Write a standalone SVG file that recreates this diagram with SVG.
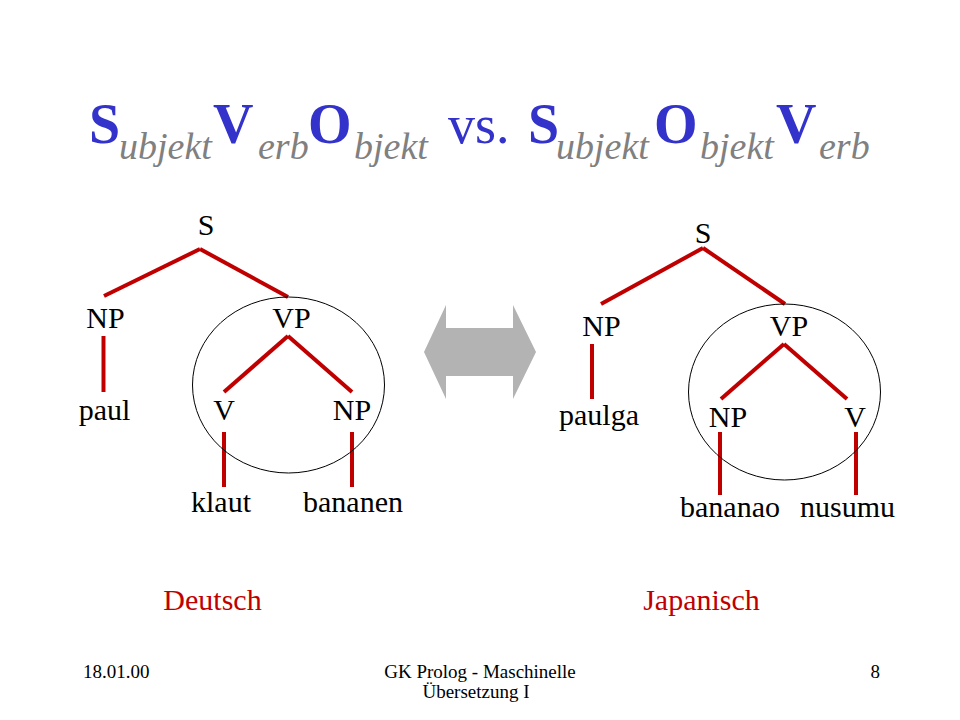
<svg xmlns="http://www.w3.org/2000/svg" width="960" height="720" viewBox="0 0 960 720">
<style>
.lbl{font-size:30px;fill:#000;text-anchor:middle}
.edge{stroke:#C00000;stroke-width:4;fill:none;stroke-linecap:butt}
.ring{fill:none;stroke:#000;stroke-width:1}
.lang{font-size:30px;fill:#C00000;text-anchor:middle}
.foot{font-size:19px;fill:#000}
.big{font-weight:bold;font-size:56px;fill:#3333CC}
.sub{font-style:italic;font-size:38px;fill:#808080}
.vs{font-size:54px;fill:#3333CC}
</style>
<rect x="0" y="0" width="960" height="720" fill="#ffffff"/>

<g id="title" font-family="'Liberation Serif', serif">
<text class="big" x="89" y="143">S</text>
<text class="sub" x="119" y="159">ubjekt</text>
<text class="big" x="213" y="143">V</text>
<text class="sub" x="258" y="159">erb</text>
<text class="big" x="308" y="143">O</text>
<text class="sub" x="354" y="159">bjekt</text>
<text class="vs" x="448" y="143">vs.</text>
<text class="big" x="528" y="143">S</text>
<text class="sub" x="556" y="159">ubjekt</text>
<text class="big" x="654" y="143">O</text>
<text class="sub" x="700" y="159">bjekt</text>
<text class="big" x="776" y="143">V</text>
<text class="sub" x="819" y="159">erb</text>
</g>

<g id="connectors">
<line class="edge" x1="200" y1="249" x2="104" y2="296"/>
<line class="edge" x1="200" y1="249" x2="288" y2="297"/>
<line class="edge" x1="103.5" y1="336" x2="103.5" y2="392"/>
<line class="edge" x1="288" y1="336" x2="224" y2="392"/>
<line class="edge" x1="288" y1="336" x2="352" y2="392"/>
<line class="edge" x1="224" y1="432" x2="224" y2="487"/>
<line class="edge" x1="352" y1="432" x2="352" y2="487"/>
<line class="edge" x1="703" y1="248" x2="601" y2="304"/>
<line class="edge" x1="703" y1="248" x2="785" y2="304"/>
<line class="edge" x1="592" y1="344" x2="592" y2="399"/>
<line class="edge" x1="784" y1="344" x2="721" y2="399"/>
<line class="edge" x1="784" y1="344" x2="847" y2="399"/>
<line class="edge" x1="720" y1="432" x2="720" y2="495"/>
<line class="edge" x1="856" y1="432" x2="856" y2="495"/>
</g>

<g id="vp-circle-de"><ellipse class="ring" cx="288.5" cy="385" rx="96" ry="88"/></g>
<g id="vp-circle-ja"><ellipse class="ring" cx="784.5" cy="392" rx="96" ry="88"/></g>

<g font-family="'Liberation Serif', serif">
<g id="de-S"><text class="lbl" x="206" y="235">S</text></g>
<g id="de-NP"><text class="lbl" x="105.5" y="328">NP</text></g>
<g id="de-VP"><text class="lbl" x="291.5" y="328">VP</text></g>
<g id="de-paul"><text class="lbl" x="104.5" y="420">paul</text></g>
<g id="de-V"><text class="lbl" x="224" y="420">V</text></g>
<g id="de-NP2"><text class="lbl" x="352" y="420">NP</text></g>
<g id="de-klaut"><text class="lbl" x="221" y="512">klaut</text></g>
<g id="de-bananen"><text class="lbl" x="353" y="512">bananen</text></g>
<g id="ja-S"><text class="lbl" x="703" y="243">S</text></g>
<g id="ja-NP"><text class="lbl" x="601.5" y="336">NP</text></g>
<g id="ja-VP"><text class="lbl" x="789" y="336">VP</text></g>
<g id="ja-paulga"><text class="lbl" x="599" y="425">paulga</text></g>
<g id="ja-NP2"><text class="lbl" x="728" y="427">NP</text></g>
<g id="ja-V"><text class="lbl" x="855" y="427">V</text></g>
<g id="ja-bananao"><text class="lbl" x="730" y="517">bananao</text></g>
<g id="ja-nusumu"><text class="lbl" x="847.5" y="517">nusumu</text></g>
</g>

<g id="double-arrow">
<polygon points="424,352 446,305 446,328 513,328 513,305 536,352 513,399 513,376 446,376 446,399" fill="#B3B3B3"/>
</g>

<g font-family="'Liberation Serif', serif">
<g id="lang-de"><text class="lang" x="212.5" y="610">Deutsch</text></g>
<g id="lang-ja"><text class="lang" x="701.5" y="610">Japanisch</text></g>
<g id="footer">
<text class="foot" x="83" y="678">18.01.00</text>
<text class="foot" x="480" y="678" text-anchor="middle">GK Prolog - Maschinelle</text>
<text class="foot" x="476" y="698" text-anchor="middle">Übersetzung I</text>
<text class="foot" x="880" y="678" text-anchor="end">8</text>
</g>
</g>
</svg>
